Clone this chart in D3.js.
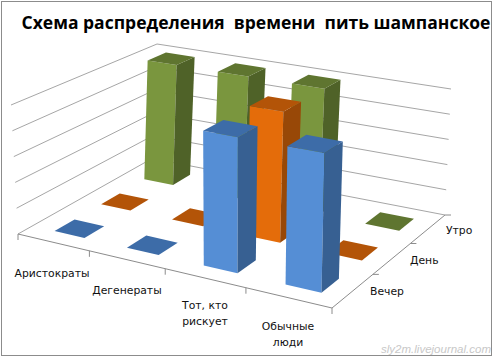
<!DOCTYPE html>
<html>
<head>
<meta charset="utf-8">
<script src="https://cdn.jsdelivr.net/npm/d3@7"></script>
<style>
  html, body { margin: 0; padding: 0; background: #fff; }
  svg { display: block; }
</style>
</head>
<body>
<div id="chart"></div>
<script>
const categories = ["Аристократы", "Дегенераты", "Тот, кто рискует", "Обычные люди"];
const seriesNames = ["Вечер", "День", "Утро"];
// значения рядов по категориям
const evening = [0, 0, 5, 5];
const day = [0, 0, 5, 0];
const morning = [5, 5, 5, 0];
const yTicks = [0, 1, 2, 3, 4, 5];

const width = 494, height = 358;

const svg = d3.select("#chart").append("svg")
    .attr("width", width)
    .attr("height", height);

svg.append("rect")
    .attr("x", 1.5).attr("y", 1.5)
    .attr("width", 490).attr("height", 354)
    .attr("fill", "#fff").attr("stroke", "#8c8c8c");

// гомография: единичный квадрат -> четырёхугольник на экране
function homography(q) {
    const [p0, p1, p2, p3] = q;
    const dx1 = p1[0] - p2[0], dx2 = p3[0] - p2[0], sx = p0[0] - p1[0] + p2[0] - p3[0];
    const dy1 = p1[1] - p2[1], dy2 = p3[1] - p2[1], sy = p0[1] - p1[1] + p2[1] - p3[1];
    const det = dx1 * dy2 - dx2 * dy1;
    const g = (sx * dy2 - dx2 * sy) / det;
    const h = (dx1 * sy - sx * dy1) / det;
    const a = p1[0] - p0[0] + g * p1[0], b = p3[0] - p0[0] + h * p3[0];
    const d = p1[1] - p0[1] + g * p1[1], e = p3[1] - p0[1] + h * p3[1];
    return (u, v) => {
        const w = g * u + h * v + 1;
        return [(a * u + b * v + p0[0]) / w, (d * u + e * v + p0[1]) / w];
    };
}

// углы пола и верха: перед-лево, перед-право, зад-право, зад-лево
const floorAt = homography([[18, 234], [332, 308], [445, 215], [152, 158.5]]);
const ceilAt = homography([[11, 105], [335, 166], [451, 89], [157, 44]]);

const xScale = d3.scaleLinear().domain([0, categories.length]).range([0, 1]);
const zScale = d3.scaleLinear().domain([0, seriesNames.length]).range([0, 1]);
const yScale = d3.scaleLinear().domain([0, 5]).range([0, 1]);

function project(cat, ser, val) {
    const u = xScale(cat), v = zScale(ser), t = yScale(val);
    const f = floorAt(u, v), c = ceilAt(u, v);
    return [f[0] + (c[0] - f[0]) * t, f[1] + (c[1] - f[1]) * t];
}

const line = d3.line();

// сетка на стенах
const grid = svg.append("g")
    .attr("fill", "none").attr("stroke", "#a6a6a6").attr("stroke-width", 1);
yTicks.forEach(t => {
    grid.append("path").attr("d", line([project(0, 0, t), project(0, 3, t), project(4, 3, t)]));
});

// оси пола
const axes = svg.append("g")
    .attr("fill", "none").attr("stroke", "#8c8c8c").attr("stroke-width", 1);
axes.append("path").attr("d", line([project(0, 0, 0), project(4, 0, 0), project(4, 3, 0)]));
d3.range(categories.length + 1).forEach(i => {
    const p = project(i, 0, 0);
    axes.append("path").attr("d", line([p, [p[0], p[1] + 6]]));
});
d3.range(1, seriesNames.length + 1).forEach(j => {
    const p = project(4, j, 0);
    axes.append("path").attr("d", line([p, [p[0] + 6, p[1]]]));
});

const palette = [
    { front: "#558ed5", top: "#3d6ca8", side: "#376092" },
    { front: "#e46c0a", top: "#b35408", side: "#984807" },
    { front: "#7a963e", top: "#5f7530", side: "#4f6228" },
];
const seriesValues = [evening, day, morning];
const barSize = 0.42;
const barShift = 0.03; // столбцы чуть правее центра ячейки

// рисуем от дальнего ряда к ближнему
d3.range(seriesNames.length - 1, -1, -1).forEach(s => {
    const g = svg.append("g");
    seriesValues[s].forEach((val, i) => {
        const c = palette[s];
        const x0 = i + 0.5 + barShift - barSize / 2, x1 = i + 0.5 + barShift + barSize / 2;
        const z0 = s + 0.5 - barSize / 2, z1 = s + 0.5 + barSize / 2;
        const face = (pts, fill) => g.append("path")
            .attr("d", line(pts) + "Z").attr("fill", fill);
        if (val > 0) {
            face([project(x0, z0, 0), project(x1, z0, 0), project(x1, z0, val), project(x0, z0, val)], c.front);
            face([project(x1, z0, 0), project(x1, z1, 0), project(x1, z1, val), project(x1, z0, val)], c.side);
        }
        face([project(x0, z0, val), project(x1, z0, val), project(x1, z1, val), project(x0, z1, val)], c.top);
    });
});

// подписи категорий
const labelFont = "'DejaVu Sans', sans-serif";
const catLabels = [
    { lines: ["Аристократы"], x: 52, y: 277 },
    { lines: ["Дегенераты"], x: 127, y: 294 },
    { lines: ["Тот, кто", "рискует"], x: 205, y: 309 },
    { lines: ["Обычные", "люди"], x: 288, y: 330 },
];
catLabels.forEach(d => {
    d.lines.forEach((t, k) => {
        svg.append("text")
            .attr("x", d.x).attr("y", d.y + k * 16)
            .attr("text-anchor", "middle")
            .attr("font-family", labelFont).attr("font-size", 10.8)
            .attr("fill", "#111")
            .text(t);
    });
});

const serLabels = [{ x: 370, y: 295 }, { x: 410, y: 264 }, { x: 446, y: 234 }];
serLabels.forEach((d, k) => {
    svg.append("text")
        .attr("x", d.x).attr("y", d.y)
        .attr("font-family", labelFont).attr("font-size", 10.8)
        .attr("fill", "#111")
        .text(seriesNames[k]);
});

svg.append("text")
    .attr("x", 256).attr("y", 29)
    .attr("text-anchor", "middle")
    .attr("font-family", "'Open Sans', sans-serif")
    .attr("font-weight", "bold")
    .attr("font-size", 17.5)
    .attr("fill", "#000")
    .style("white-space", "pre")
    .text("Схема распределения  времени  пить шампанское");

svg.append("text")
    .attr("x", 491).attr("y", 353)
    .attr("text-anchor", "end")
    .attr("font-family", "'Liberation Sans', sans-serif")
    .attr("font-style", "italic")
    .attr("font-size", 11.5)
    .attr("fill", "#c8c8c8")
    .text("sly2m.livejournal.com");
</script>
</body>
</html>
